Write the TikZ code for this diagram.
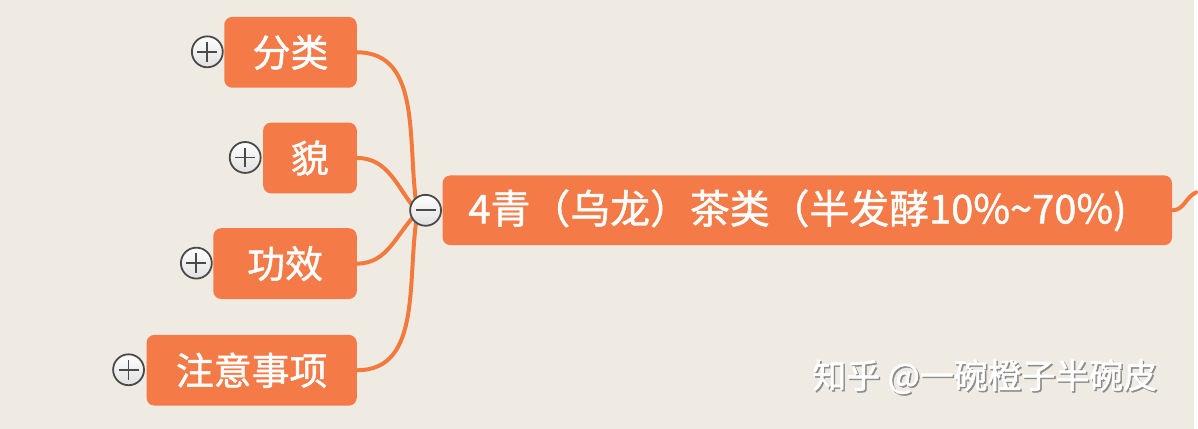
\documentclass[tikz,border=0pt]{standalone}
\usepackage{fontspec}
\newfontfamily\cjk[FakeBold=1.2]{Noto Sans CJK SC}
\newfontfamily\cjkmark[FakeBold=1.5]{Noto Sans CJK SC}
\definecolor{paper}{HTML}{EFEAE2}
\definecolor{tea}{HTML}{F47B48}
\definecolor{twig}{HTML}{F27A3C}
\definecolor{knob}{HTML}{4A4A4A}

\begin{document}
\begin{tikzpicture}[
    x=1pt, y=-1pt,
    topic/.style={rounded corners=8pt, fill=tea, text=white,
        minimum height=71pt, inner sep=0pt, font=\cjk\fontsize{38}{42}\selectfont},
    branch/.style={draw=twig, line width=4pt, line cap=round},
    toggle/.style={circle, draw=knob, line width=1.8pt, fill=white,
        top color=white, bottom color=black!12, minimum size=31pt, inner sep=0pt},
    plus/.style={toggle, path picture={
        \draw[knob, line width=1.8pt] ([xshift=-10pt]path picture bounding box.center) -- ++(20pt,0)
            ([yshift=-10pt]path picture bounding box.center) -- ++(0,20pt);}},
    minus/.style={toggle, path picture={
        \draw[knob, line width=1.8pt] ([xshift=-10pt]path picture bounding box.center) -- ++(20pt,0);}}
]
    \fill[paper] (0,0) rectangle (1198,430);

    \node[topic, minimum width=133pt] (kind) at (291.5,52.5) {分类};
    \node[topic, minimum width=94pt] (look) at (311,158.5) {貌};
    \node[topic, minimum width=144pt] (effect) at (286,264.5) {功效};
    \node[topic, minimum width=211pt] (caution) at (252.5,371.5) {注意事项};
    \node[topic, minimum height=70pt, inner xsep=26pt, text width=680pt, align=left,
        font=\cjk\fontsize{40}{44}\selectfont]
        (oolong) at (810,211) {4青（乌龙）茶类（半发酵10\%\textasciitilde70\%)};

    \coordinate (joint) at (419,213);
    \coordinate (offpage) at (1200,193);
    \draw[branch] (kind.east) to[out=0, in=100] (joint);
    \draw[branch] (look.east) to[out=0, in=130] (joint);
    \draw[branch] (effect.east) to[out=0, in=225] (joint);
    \draw[branch] (caution.east) to[out=0, in=260] (joint);
    \draw[branch] (oolong.east) to[out=0, in=205] (offpage);

    \node[minus] (fold) at (427,211) {};
    \node[plus] (kindplus) at (208,52) {};
    \node[plus] (lookplus) at (246,158) {};
    \node[plus] (effectplus) at (197,264) {};
    \node[plus] (cautionplus) at (129,371) {};

    % watermark
    \node[text=black!45, font=\cjkmark\fontsize{34}{38}\selectfont] (markshade) at (989.5,379.5) {知乎 @一碗橙子半碗皮};
    \node[text=white, font=\cjkmark\fontsize{34}{38}\selectfont] (mark) at (988,378) {知乎 @一碗橙子半碗皮};
\end{tikzpicture}
\end{document}
